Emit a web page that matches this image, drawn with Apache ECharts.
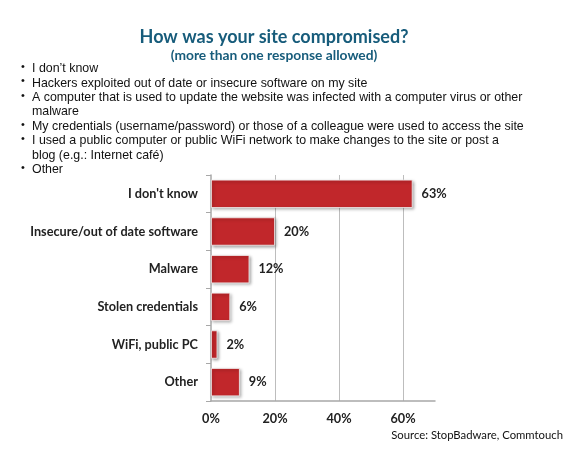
<!DOCTYPE html>
<html>
<head>
<meta charset="utf-8">
<script src="https://cdn.jsdelivr.net/npm/echarts@6/dist/echarts.min.js"></script>
<style>
  html, body { margin: 0; padding: 0; background: #fff; }
  #chart { width: 584px; height: 475px; }
</style>
</head>
<body>
<div id="chart"></div>
<script>
const titleText = 'How was your site compromised?';
const subtitleText = '(more than one response allowed)';
const bulletItems = [
  'I don\u2019t know',
  'Hackers exploited out of date or insecure software on my site',
  'A computer that is used to update the website was infected with a computer virus or other\nmalware',
  'My credentials (username/password) or those of a colleague were used to access the site',
  'I used a public computer or public WiFi network to make changes to the site or post a\nblog (e.g.: Internet caf\u00e9)',
  'Other'
];
const categories = ['I don\'t know', 'Insecure/out of date software', 'Malware', 'Stolen credentials', 'WiFi, public PC', 'Other'];
const percentValues = [63, 20, 12, 6, 2, 9];
const sourceText = 'Source: StopBadware, Commtouch';

const chart = echarts.init(document.getElementById('chart'));

const titleColor = '#175c7b';
const lineH = 14.4;
const graphics = [];
let lineIdx = 0;
bulletItems.forEach(function (item) {
  const y0 = 69 + lineIdx * lineH;
  graphics.push({
    type: 'text', left: 21, top: y0 - 7.5,
    style: { text: '\u2022', font: '11px "Liberation Sans", Arial, sans-serif', fill: '#111' }
  });
  graphics.push({
    type: 'text', left: 32, top: y0 - 7.5,
    style: { text: item, font: '12.4px "Liberation Sans", Arial, sans-serif', fill: '#111', lineHeight: lineH }
  });
  lineIdx += item.split('\n').length;
});
graphics.push({
  type: 'text', right: 21, top: 430,
  style: { text: sourceText, font: '11.3px Lato, "Noto Sans", sans-serif', fill: '#111' }
});

const labelFont = 'Lato, "Open Sans", sans-serif';

chart.setOption({
  backgroundColor: '#ffffff',
  animation: false,
  title: {
    text: titleText,
    subtext: subtitleText,
    left: 269,
    textAlign: 'center',
    top: 23,
    itemGap: 3,
    textStyle: { color: titleColor, fontFamily: labelFont, fontWeight: 'bold', fontSize: 18 },
    subtextStyle: { color: titleColor, fontFamily: labelFont, fontWeight: 'bold', fontSize: 13.8 }
  },
  graphic: graphics,
  grid: { left: 211, top: 175, width: 224, height: 226, containLabel: false },
  xAxis: {
    type: 'value',
    min: 0, max: 70, interval: 20,
    axisLine: { show: true, lineStyle: { color: '#a8a8a8', width: 1.5 } },
    axisTick: { show: false },
    axisLabel: {
      formatter: '{value}%', showMaxLabel: false,
      color: '#222', fontFamily: labelFont, fontWeight: 'bold', fontSize: 12.7, margin: 11
    },
    splitLine: { show: true, showMaxLine: false, showMinLine: false, lineStyle: { color: '#bdbdbd', width: 1 } }
  },
  yAxis: {
    type: 'category',
    data: categories,
    inverse: true,
    axisLine: { show: true, lineStyle: { color: '#a8a8a8', width: 1.5 } },
    axisTick: { show: true, inside: false, length: 5, lineStyle: { color: '#a8a8a8' } },
    axisLabel: { color: '#222', fontFamily: labelFont, fontWeight: 'bold', fontSize: 12.7, margin: 13 }
  },
  series: [{
    type: 'bar',
    data: percentValues,
    barCategoryGap: '25%',
    itemStyle: {
      color: '#c1272b',
      borderColor: '#f3f3f3', borderWidth: 0.8,
      shadowColor: 'rgba(0,0,0,0.35)', shadowBlur: 3, shadowOffsetX: 1.5, shadowOffsetY: 1.5
    },
    label: {
      show: true, position: 'right', distance: 9, formatter: '{c}%',
      color: '#222', fontFamily: labelFont, fontWeight: 'bold', fontSize: 12.7
    }
  }]
});
</script>
</body>
</html>
